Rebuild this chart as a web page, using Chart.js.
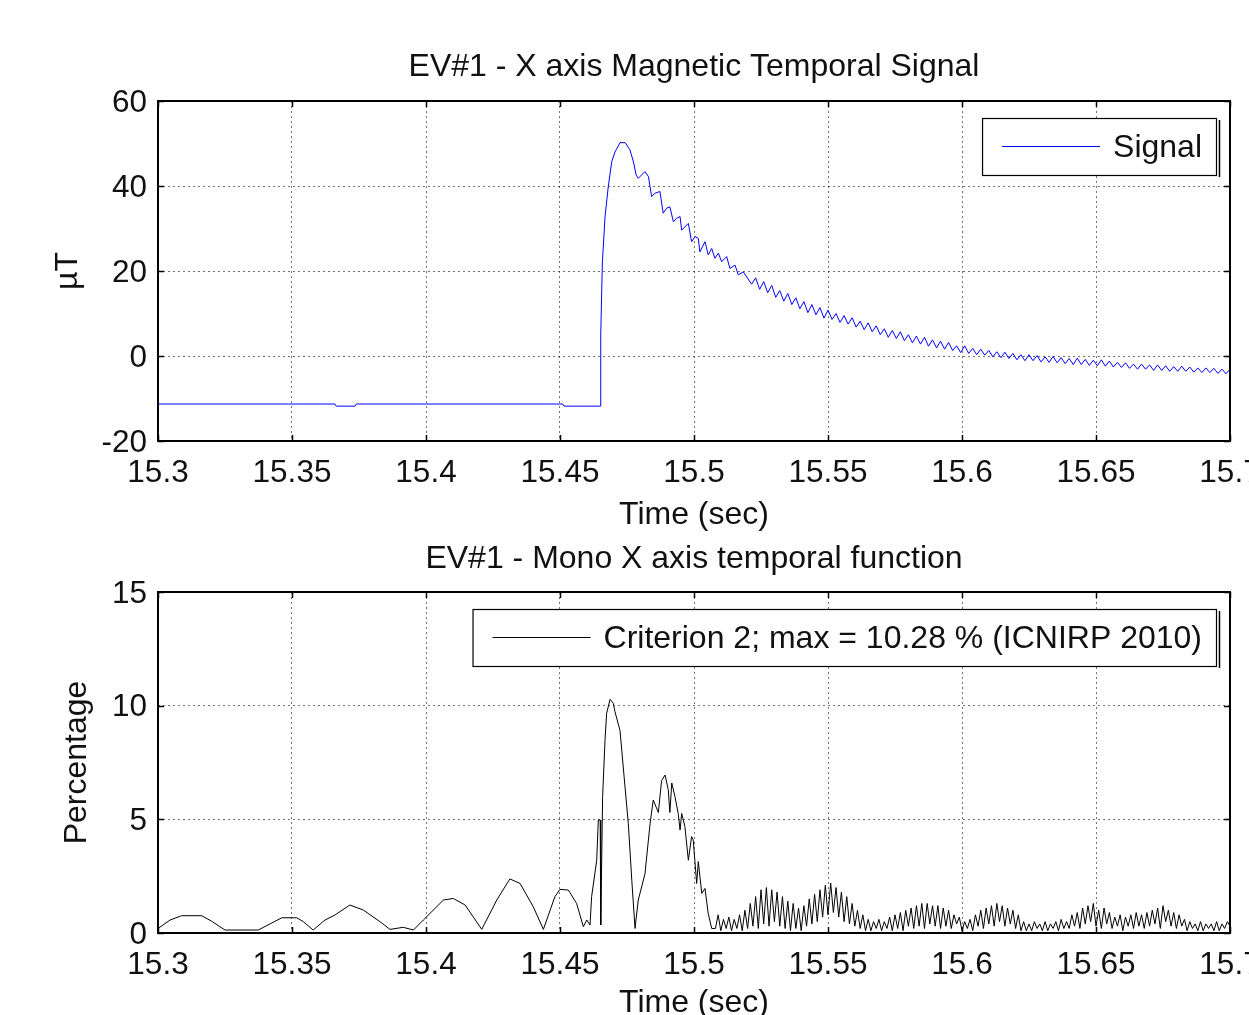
<!DOCTYPE html>
<html>
<head>
<meta charset="utf-8">
<script src="https://cdn.jsdelivr.net/npm/chart.js@4.4.0/dist/chart.umd.min.js"></script>
<style>
  html, body { margin: 0; padding: 0; background: #fff; overflow: hidden; width: 1249px; height: 1015px; }
  canvas { position: absolute; left: 0; }
  #chart_signal { top: 0; }
  #chart_criterion { top: 535px; }
</style>
</head>
<body>
<canvas id="chart_signal" width="1300" height="535"></canvas>
<canvas id="chart_criterion" width="1300" height="500"></canvas>
<script>
const timeTicks = [15.3, 15.35, 15.4, 15.45, 15.5, 15.55, 15.6, 15.65, 15.7];
const fieldTicks = [-20, 0, 20, 40, 60];
const pctTicks = [0, 5, 10, 15];

// X axis magnetic signal (µT): flat part, step and first ripples, read point by point
const sigHeadT = [15.300, 15.366, 15.3665, 15.3735, 15.374, 15.451, 15.4515, 15.4650, 15.4652, 15.4658,
    15.4668, 15.4680, 15.4693, 15.4705, 15.4724, 15.4743, 15.4761, 15.4774, 15.4784, 15.4792,
    15.4817, 15.4830, 15.4842, 15.4854, 15.4873, 15.4885, 15.4898, 15.4910, 15.4923, 15.4935,
    15.4948, 15.4954, 15.4979, 15.4991, 15.5004, 15.5016, 15.5022, 15.5041, 15.5053, 15.5066,
    15.5078, 15.5091, 15.5103, 15.5122, 15.5134, 15.5153, 15.5165, 15.5184];
const sigHeadV = [-11.3, -11.3, -11.8, -11.8, -11.3, -11.3, -11.8, -11.8, 5.0, 21.9,
    32.7, 39.8, 45.7, 48.0, 50.2, 50.2, 48.5, 45.7, 42.6, 41.8,
    43.4, 42.2, 37.5, 38.3, 38.7, 33.6, 34.8, 35.1, 31.6, 32.4,
    32.8, 29.6, 31.2, 26.9, 28.1, 27.7, 24.5, 26.9, 23.8, 25.3,
    23.0, 24.2, 22.2, 23.4, 20.6, 21.4, 19.1, 19.8];
// rest of the decay, one reading every 1.5 ms
const sigTailT0 = 15.5215;
const sigTailDt = 0.0015;
const sigTailV = [16.9, 18.4, 15.7, 17.5, 14.9, 16.6, 13.8, 15.4, 12.9, 14.7,
    12.1, 13.7, 11.1, 12.8, 10.2, 12.1, 9.7, 11.4, 8.9, 10.8,
    8.6, 10.0, 7.9, 9.5, 7.5, 9.0, 6.8, 8.2, 6.2, 7.8,
    5.7, 7.1, 5.0, 6.4, 4.4, 6.0, 4.1, 5.7, 3.6, 5.0,
    3.1, 4.7, 2.8, 4.4, 2.3, 3.8, 1.9, 3.5, 1.6, 3.2,
    1.3, 2.4, 0.8, 2.4, 0.6, 1.8, 0.3, 1.6, 0.2, 1.3,
    -0.2, 1.0, -0.4, 0.9, -0.6, 0.6, -0.9, 0.3, -1.1, 0.3,
    -1.1, 0.1, -1.4, -0.2, -1.5, -0.1, -1.6, -0.4, -1.8, -0.6,
    -2.0, -0.5, -2.0, -0.8, -2.2, -1.0, -2.3, -0.9, -2.4, -1.2,
    -2.6, -1.5, -2.7, -1.6, -2.9, -1.9, -3.1, -1.9, -3.1, -2.1,
    -3.4, -2.1, -3.4, -2.3, -3.6, -2.5, -3.6, -2.4, -3.6, -2.6,
    -3.8, -2.8, -3.9, -2.8, -3.9, -2.9, -4.1, -3.1, -4.2, -3.1];

// criterion 2 (% of ICNIRP 2010 limit): slow humps and the two big peaks
const critHeadT = [15.3000, 15.3045, 15.3088, 15.3163, 15.3200, 15.3250, 15.3374, 15.3418, 15.3462, 15.3518,
    15.3542, 15.3579, 15.3623, 15.3660, 15.3716, 15.3766, 15.3828, 15.3866, 15.3915, 15.3953,
    15.3990, 15.4065, 15.4102, 15.4146, 15.4208, 15.4264, 15.4313, 15.4351, 15.4400, 15.4438,
    15.4481, 15.4500, 15.4531, 15.4562, 15.4587, 15.4600, 15.4612, 15.4618, 15.4637, 15.4643,
    15.4650, 15.4652, 15.4659, 15.4668, 15.4674, 15.4687, 15.4699, 15.4705, 15.4724, 15.4736,
    15.4755, 15.4768, 15.4780, 15.4792, 15.4817, 15.4836, 15.4848, 15.4867, 15.4879, 15.4892,
    15.4904, 15.4910, 15.4917, 15.4929, 15.4941, 15.4948, 15.4954, 15.4966, 15.4979, 15.4991,
    15.4997, 15.5010, 15.5016, 15.5029, 15.5041, 15.5053, 15.5066];
const critHeadV = [0.2, 0.57, 0.76, 0.76, 0.52, 0.13, 0.13, 0.4, 0.67, 0.67,
    0.5, 0.13, 0.57, 0.79, 1.23, 1.01, 0.5, 0.16, 0.25, 0.13,
    0.57, 1.45, 1.52, 1.23, 0.16, 1.45, 2.38, 2.18, 1.16, 0.16,
    1.6, 1.92, 1.89, 1.3, 0.28, 0.57, 0.35, 1.6, 3.2, 4.97,
    4.97, 0.35, 6.0, 8.5, 9.67, 10.28, 10.1, 9.74, 8.9, 7.3,
    4.8, 2.3, 0.2, 1.45, 2.6, 4.8, 5.85, 5.3, 6.7, 6.95,
    6.3, 5.3, 6.6, 6.0, 5.26, 4.53, 5.26, 4.68, 3.2, 4.24,
    4.1, 2.18, 3.14, 1.74, 1.96, 0.86, 0.2];
// noisy tail, one reading every 1 ms
const critTailT0 = 15.508;
const critTailDt = 0.001;
const critTailV = [0.2, 0.8, 0.1, 0.6, 0.2, 0.7, 0.1, 0.6, 0.2, 0.8,
    0.1, 1.0, 0.2, 1.3, 0.3, 1.6, 0.2, 1.9, 0.4, 2.0,
    0.3, 1.9, 0.5, 1.8, 0.3, 1.6, 0.2, 1.4, 0.1, 1.3,
    0.2, 1.1, 0.1, 1.2, 0.3, 1.5, 0.4, 1.7, 0.5, 1.9,
    0.7, 2.1, 0.8, 2.2, 0.9, 2.0, 0.7, 1.8, 0.5, 1.6,
    0.4, 1.3, 0.3, 1.0, 0.2, 0.8, 0.1, 0.6, 0.1, 0.5,
    0.2, 0.6, 0.1, 0.5, 0.2, 0.7, 0.1, 0.8, 0.2, 0.9,
    0.1, 1.0, 0.3, 1.1, 0.2, 1.2, 0.3, 1.3, 0.2, 1.3,
    0.4, 1.2, 0.3, 1.2, 0.2, 1.1, 0.3, 1.0, 0.2, 0.8,
    0.4, 0.7, 0.1, 0.5, 0.2, 0.6, 0.1, 0.8, 0.3, 1.0,
    0.2, 1.1, 0.4, 1.2, 0.3, 1.3, 0.5, 1.2, 0.3, 1.1,
    0.4, 1.0, 0.2, 0.8, 0.1, 0.5, 0.1, 0.4, 0.1, 0.5,
    0.2, 0.4, 0.1, 0.5, 0.1, 0.4, 0.2, 0.5, 0.1, 0.6,
    0.2, 0.5, 0.2, 0.8, 0.3, 0.9, 0.2, 1.1, 0.4, 1.2,
    0.5, 1.3, 0.3, 1.0, 0.2, 1.1, 0.4, 0.9, 0.2, 0.7,
    0.3, 0.8, 0.1, 0.7, 0.3, 0.8, 0.2, 0.9, 0.3, 0.8,
    0.2, 0.9, 0.3, 1.0, 0.4, 1.1, 0.2, 1.2, 0.5, 1.0,
    0.3, 0.9, 0.2, 0.8, 0.3, 0.6, 0.1, 0.5, 0.2, 0.4,
    0.1, 0.5, 0.1, 0.4, 0.2, 0.4, 0.1, 0.5, 0.1, 0.4,
    0.2, 0.5, 0.3];

const FONT = "'Liberation Sans', Arial, sans-serif";
const TEXT = '#111';

function toPoints(headT, headV, t0, dt, tailV) {
    const pts = headT.map((t, i) => ({x: t, y: headV[i]}));
    tailV.forEach((v, i) => pts.push({x: t0 + i * dt, y: v}));
    return pts;
}

// MATLAB-like frame: full box, inward ticks on four sides, boxed legend
const matlabAxes = {
    id: 'matlabAxes',
    afterDatasetsDraw(chart) {
        const {ctx, chartArea: a, scales: {x, y}} = chart;
        ctx.save();
        ctx.strokeStyle = '#000';
        ctx.lineWidth = 1.5;
        ctx.beginPath();
        x.ticks.forEach(t => {
            const px = Math.round(x.getPixelForValue(t.value)) + 0.5;
            ctx.moveTo(px, a.bottom); ctx.lineTo(px, a.bottom - 6);
            ctx.moveTo(px, a.top); ctx.lineTo(px, a.top + 6);
        });
        y.ticks.forEach(t => {
            const py = Math.round(y.getPixelForValue(t.value)) + 0.5;
            ctx.moveTo(a.left, py); ctx.lineTo(a.left + 6, py);
            ctx.moveTo(a.right, py); ctx.lineTo(a.right - 6, py);
        });
        ctx.stroke();
        ctx.lineWidth = 2;
        ctx.strokeRect(a.left, a.top, a.right - a.left, a.bottom - a.top);

        const ds = chart.data.datasets[0];
        ctx.font = '32px ' + FONT;
        const tw = ctx.measureText(ds.label).width;
        const h = 57;
        const right = a.right - 14;
        const top = a.top + 17;
        const w = 20 + 98 + 13 + tw + 14;
        const left = right - w;
        ctx.fillStyle = '#fff';
        ctx.fillRect(left, top, w, h);
        ctx.lineWidth = 1.2;
        ctx.strokeRect(left + 0.5, top + 0.5, w, h);
        ctx.lineWidth = 1.5;
        ctx.beginPath();
        ctx.moveTo(right + 3.5, top + 2);
        ctx.lineTo(right + 3.5, top + h + 2);
        ctx.stroke();
        // legend sample line in the series colour
        ctx.strokeStyle = ds.borderColor;
        ctx.lineWidth = 1.2;
        ctx.beginPath();
        ctx.moveTo(left + 20, top + h / 2);
        ctx.lineTo(left + 118, top + h / 2);
        ctx.stroke();
        ctx.fillStyle = TEXT;
        ctx.textBaseline = 'middle';
        ctx.textAlign = 'left';
        ctx.fillText(ds.label, left + 131, top + h / 2 + 2);
        ctx.restore();
    }
};

function makeChart(id, opts) {
    return new Chart(document.getElementById(id), {
        type: 'line',
        data: {
            datasets: [{
                label: opts.label,
                data: opts.points,
                borderColor: opts.color,
                borderWidth: 1,
                pointRadius: 0,
                tension: 0,
                fill: false,
            }],
        },
        options: {
            responsive: false,
            animation: false,
            layout: {padding: {top: 0, left: 0, right: 70, bottom: 0}},
            scales: {
                x: {
                    type: 'linear',
                    min: 15.3,
                    max: 15.7,
                    afterBuildTicks: (s) => { s.ticks = timeTicks.map(v => ({value: v})); },
                    afterFit: (s) => { s.height = opts.xHeight; },
                    ticks: {
                        autoSkip: false,
                        maxRotation: 0,
                        padding: 13,
                        color: TEXT,
                        font: {family: FONT, size: 31.5},
                        callback: (v) => String(+v.toFixed(2)),
                    },
                    grid: {color: 'rgba(0,0,0,0.55)', lineWidth: 1, drawTicks: false},
                    border: {display: false, dash: [2, 3]},
                    title: {
                        display: true,
                        text: 'Time (sec)',
                        color: TEXT,
                        font: {family: FONT, size: 32},
                        padding: {top: 0, bottom: opts.xTitlePad},
                    },
                },
                y: {
                    min: opts.yTicks[0],
                    max: opts.yTicks[opts.yTicks.length - 1],
                    afterBuildTicks: (s) => { s.ticks = opts.yTicks.map(v => ({value: v})); },
                    afterFit: (s) => { s.width = 158; },
                    ticks: {
                        padding: 11,
                        labelOffset: 2,
                        color: TEXT,
                        font: {family: FONT, size: 31.5},
                    },
                    grid: {color: 'rgba(0,0,0,0.55)', lineWidth: 1, drawTicks: false},
                    border: {display: false, dash: [2, 3]},
                    title: {
                        display: true,
                        text: opts.yTitle,
                        color: TEXT,
                        font: {family: FONT, size: 32},
                        padding: {top: opts.yTitlePad, bottom: 0},
                    },
                },
            },
            plugins: {
                legend: {display: false},
                tooltip: {enabled: false},
                title: {
                    display: true,
                    fullSize: false,
                    text: opts.title,
                    color: TEXT,
                    font: {family: FONT, size: 32, weight: 'normal'},
                    padding: opts.titlePad,
                },
            },
        },
        plugins: [matlabAxes],
    });
}

makeChart('chart_signal', {
    label: 'Signal',
    points: toPoints(sigHeadT, sigHeadV, sigTailT0, sigTailDt, sigTailV),
    color: '#0000ff',
    yTicks: fieldTicks,
    yTitle: 'µT',
    yTitlePad: 49,
    title: 'EV#1 - X axis Magnetic Temporal Signal',
    titlePad: {top: 47.5, bottom: 15.1},
    xHeight: 94,
    xTitlePad: 1,
});

makeChart('chart_criterion', {
    label: 'Criterion 2; max = 10.28 % (ICNIRP 2010)',
    points: toPoints(critHeadT, critHeadV, critTailT0, critTailDt, critTailV),
    color: '#000000',
    yTicks: pctTicks,
    yTitle: 'Percentage',
    yTitlePad: 58,
    title: 'EV#1 - Mono X axis temporal function',
    titlePad: {top: 5, bottom: 13.6},
    xHeight: 102,
    xTitlePad: 13,
});
</script>
</body>
</html>
